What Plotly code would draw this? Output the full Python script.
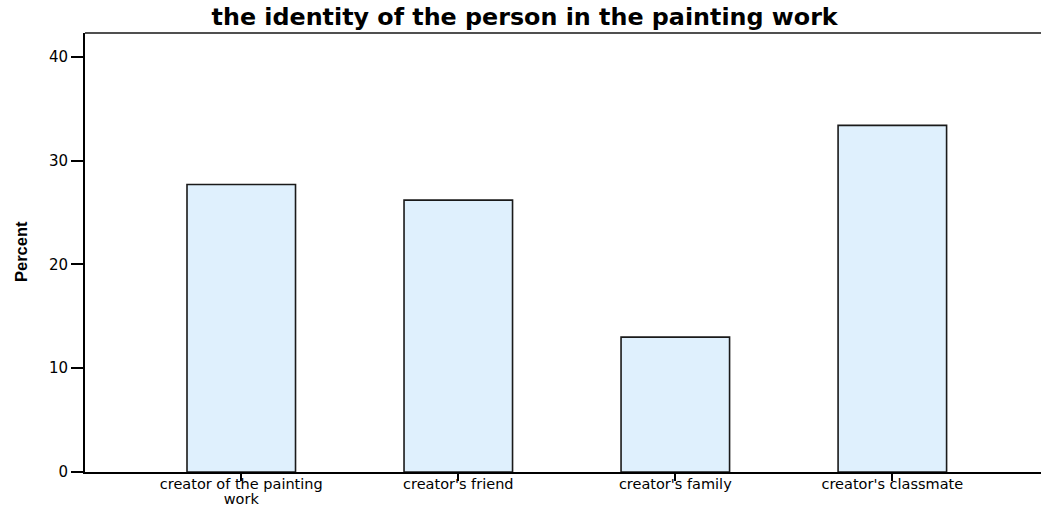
import plotly.graph_objects as go

categories = ["creator of the painting<br>work", "creator's friend", "creator's family", "creator's classmate"]
percent = [27.7, 26.2, 13.0, 33.4]
y_ticks = [0, 10, 20, 30, 40]

def styled(label):
    return "<br>".join(f"<span style='font-size:14.5px'>{part}</span>" for part in label.split("<br>"))

fig = go.Figure()
fig.add_trace(go.Bar(
    x=list(range(len(categories))),
    y=percent,
    width=0.5,
    marker=dict(color="#dff0fd", line=dict(color="#1a1a1a", width=1.6)),
))

fig.update_layout(
    width=1041, height=506,
    margin=dict(l=85, r=0, t=33, b=34, autoexpand=False),
    paper_bgcolor="white", plot_bgcolor="white",
    showlegend=False,
    title=dict(text="<b>the identity of the person in the painting work</b>",
               x=0.504, xanchor="center", y=1 - 17 / 506, yanchor="middle",
               font=dict(family="DejaVu Sans", size=23.8, color="black")),
    font=dict(family="DejaVu Sans", color="black"),
)
fig.update_xaxes(
    range=[-0.72, 3.685], automargin=False,
    tickvals=list(range(len(categories))), ticktext=[styled(c) for c in categories],
    showgrid=False, zeroline=False,
    showline=True, linecolor="black", linewidth=2,
    ticks="outside", ticklen=7, tickwidth=2, tickcolor="black",
    ticklabelstandoff=-5,
    tickfont=dict(family="DejaVu Sans", size=11, color="black"),
)
fig.update_yaxes(
    range=[0, 42.3], automargin=False,
    tickvals=y_ticks,
    showgrid=False, zeroline=False,
    showline=True, linecolor="black", linewidth=2,
    ticks="outside", ticklen=12, tickwidth=2, tickcolor="black",
    tickfont=dict(family="DejaVu Sans", size=15, color="black"),
)
fig.add_annotation(text="<b>Percent</b>", xref="paper", yref="paper",
                   x=-64 / 956, y=(472 - 252) / 439, xanchor="center", yanchor="middle",
                   textangle=-90, showarrow=False,
                   font=dict(family="Liberation Sans", size=16.5, color="black"))
fig.add_shape(type="line", xref="paper", yref="paper", x0=0, x1=1, y0=1, y1=1,
              line=dict(color="#505050", width=2))

fig.write_html("out.html", config={"displayModeBar": False},
               post_script="document.body.style.margin='0';document.body.style.overflow='hidden';")
